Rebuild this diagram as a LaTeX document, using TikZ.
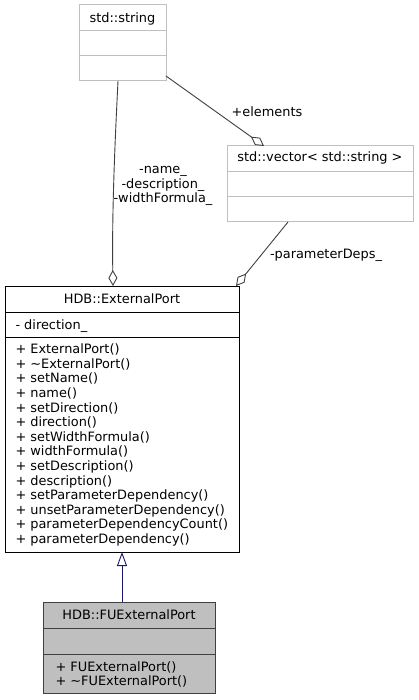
\documentclass[tikz,border=0pt]{standalone}
\usepackage{fontspec}
\setmainfont{DejaVu Sans}
\usetikzlibrary{arrows.meta,calc}
\definecolor{lgray}{HTML}{BFBFBF}
\definecolor{edgec}{HTML}{404040}
\definecolor{fufill}{HTML}{BFBFBF}
\definecolor{inhc}{HTML}{191970}
\begin{document}
\begin{tikzpicture}[x=1pt,y=-1pt,
  every node/.style={font=\fontsize{12.9}{14.6}\selectfont, inner sep=0pt, outer sep=0pt},
  lgbox/.style={draw=lgray, line width=1pt, anchor=north west},
  lgline/.style={draw=lgray, line width=1pt},
  epbox/.style={draw=black, line width=1pt, anchor=north west},
  epline/.style={draw=black, line width=1pt},
  fubox/.style={draw=edgec, fill=fufill, line width=1pt, anchor=north west},
  fuline/.style={draw=edgec, line width=1pt},
  txt/.style={anchor=base},
  txtl/.style={anchor=base west},
  edge/.style={draw=edgec, line width=0.9pt, -{Diamond[open,length=16pt,width=9pt]}},
  inh/.style={draw=inhc, line width=0.9pt, -{Triangle[open,length=14pt,width=10pt]}},
  lbl/.style={anchor=base}
]
\useasboundingbox (0,0) rectangle (419,700);
\fill[white] (0,0) rectangle (419,700);

% std::string
\node[lgbox, minimum width=87pt, minimum height=76pt] (str) at (79,5) {};
\draw[lgline] (79,31) -- (166,31);
\draw[lgline] (79,56) -- (166,56);
\node[txt] (strt) at (122.5,22.5) {std::string};

% std::vector
\node[lgbox, minimum width=186pt, minimum height=76pt] (vec) at (227,146) {};
\draw[lgline] (227,172) -- (413,172);
\draw[lgline] (227,197) -- (413,197);
\node[txt] (vect) at (320,161.5) {std::vector< std::string >};

% HDB::ExternalPort
\node[epbox, minimum width=234pt, minimum height=266pt] (ep) at (5,286) {};
\draw[epline] (5,312) -- (239,312);
\draw[epline] (5,337) -- (239,337);
\node[txt] (ept) at (122,303) {HDB::ExternalPort};
\node[txtl] (epa) at (15.5,329.2) {- direction\_};
\node[anchor=north west, align=left] (epm) at (15.5,343.4) {%
\strut+ ExternalPort()\\
\strut+ \textasciitilde ExternalPort()\\
\strut+ setName()\\
\strut+ name()\\
\strut+ setDirection()\\
\strut+ direction()\\
\strut+ setWidthFormula()\\
\strut+ widthFormula()\\
\strut+ setDescription()\\
\strut+ description()\\
\strut+ setParameterDependency()\\
\strut+ unsetParameterDependency()\\
\strut+ parameterDependencyCount()\\
\strut+ parameterDependency()};

% HDB::FUExternalPort
\node[fubox, minimum width=172pt, minimum height=91pt] (fu) at (43,602) {};
\draw[fuline] (43,628) -- (215,628);
\draw[fuline] (43,654) -- (215,654);
\node[txt] (fut) at (129,619.5) {HDB::FUExternalPort};
\node[anchor=north west, align=left] (fum) at (55.5,661) {%
\strut+ FUExternalPort()\\
\strut+ \textasciitilde FUExternalPort()};

% connectors
\draw[edge] ($(str.south west)+(39,0)$) .. controls (114,160) and (112,220) .. ($(ep.north west)+(108,0)$);
\draw[edge] ($(str.south east)+(0,-5)$) -- ($(vec.north west)+(37,0)$);
\draw[edge] ($(vec.south west)+(61,0)$) -- ($(ep.north east)+(-3,0)$);
\draw[inh] (fu.north -| ep.south) -- (ep.south);

% labels
\node[lbl] (l1) at (267,116.5) {+elements};
\node[anchor=north, align=center] (l2) at (163,163.3) {\strut-name\_\\ \strut-description\_\\ \strut-widthFormula\_};
\node[lbl] (l3) at (326,258.5) {-parameterDeps\_};
\end{tikzpicture}
\end{document}
